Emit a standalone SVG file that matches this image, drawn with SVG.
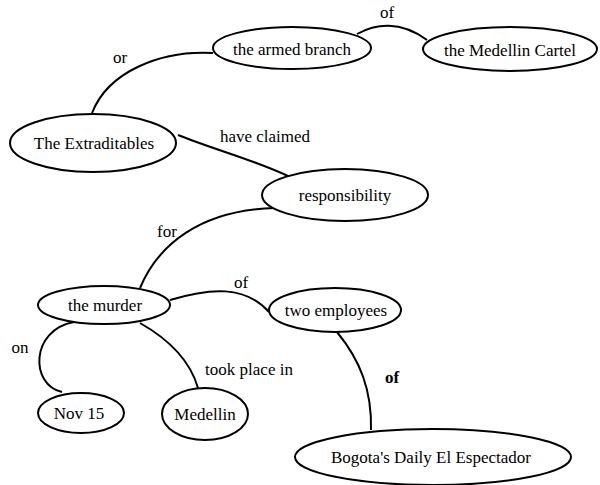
<svg xmlns="http://www.w3.org/2000/svg" width="600" height="485" viewBox="0 0 600 485">
<style>
.n ellipse{fill:#fff;stroke:#000;stroke-width:2}
text{font-family:'Liberation Serif','DejaVu Serif',serif;font-size:17px;fill:#000;text-anchor:middle}
#edges path{fill:none;stroke:#000;stroke-width:2}
</style>
<rect width="600" height="485" fill="#fff"/>
<g id="edges">
<path d="M92 113 C108 72 160 50 213 53"/>
<path d="M357 34 C375 24 400 20 427 40"/>
<path d="M178 135 C215 150 255 160 290 177"/>
<path d="M140 288 C158 245 200 210 275 208"/>
<path d="M170 300 C210 288 245 285 269 312"/>
<path d="M74 322 C30 330 30 385 62 392"/>
<path d="M140 323 C170 340 190 360 198 388"/>
<path d="M337 332 C360 360 372 390 371 430"/>
<text x="120" y="63">or</text>
<text x="387" y="18">of</text>
<text x="265" y="142">have claimed</text>
<text x="167" y="237">for</text>
<text x="241" y="288">of</text>
<text x="20" y="353">on</text>
<text x="249" y="375">took place in</text>
<text x="392" y="383" font-weight="bold">of</text>
</g>
<g id="armed" class="n"><ellipse cx="292" cy="48" rx="79" ry="21"/><text x="292" y="55">the armed branch</text></g>
<g id="cartel" class="n"><ellipse cx="510" cy="49" rx="87" ry="22"/><text x="510" y="56">the Medellin Cartel</text></g>
<g id="extraditables" class="n"><ellipse cx="93" cy="143" rx="83" ry="29"/><text x="94" y="149">The Extraditables</text></g>
<g id="responsibility" class="n"><ellipse cx="345" cy="195" rx="83" ry="26"/><text x="345" y="201">responsibility</text></g>
<g id="murder" class="n"><ellipse cx="104" cy="305" rx="66" ry="19"/><text x="105" y="311">the murder</text></g>
<g id="employees" class="n"><ellipse cx="335" cy="310" rx="66" ry="22"/><text x="336" y="316">two employees</text></g>
<g id="nov15" class="n"><ellipse cx="81" cy="413" rx="43" ry="20"/><text x="79" y="419">Nov 15</text></g>
<g id="medellin" class="n"><ellipse cx="205" cy="414" rx="43" ry="26"/><text x="205" y="420">Medellin</text></g>
<g id="bogota" class="n"><ellipse cx="433" cy="457" rx="138" ry="28"/><text x="431" y="463">Bogota's Daily El Espectador</text></g>
</svg>
